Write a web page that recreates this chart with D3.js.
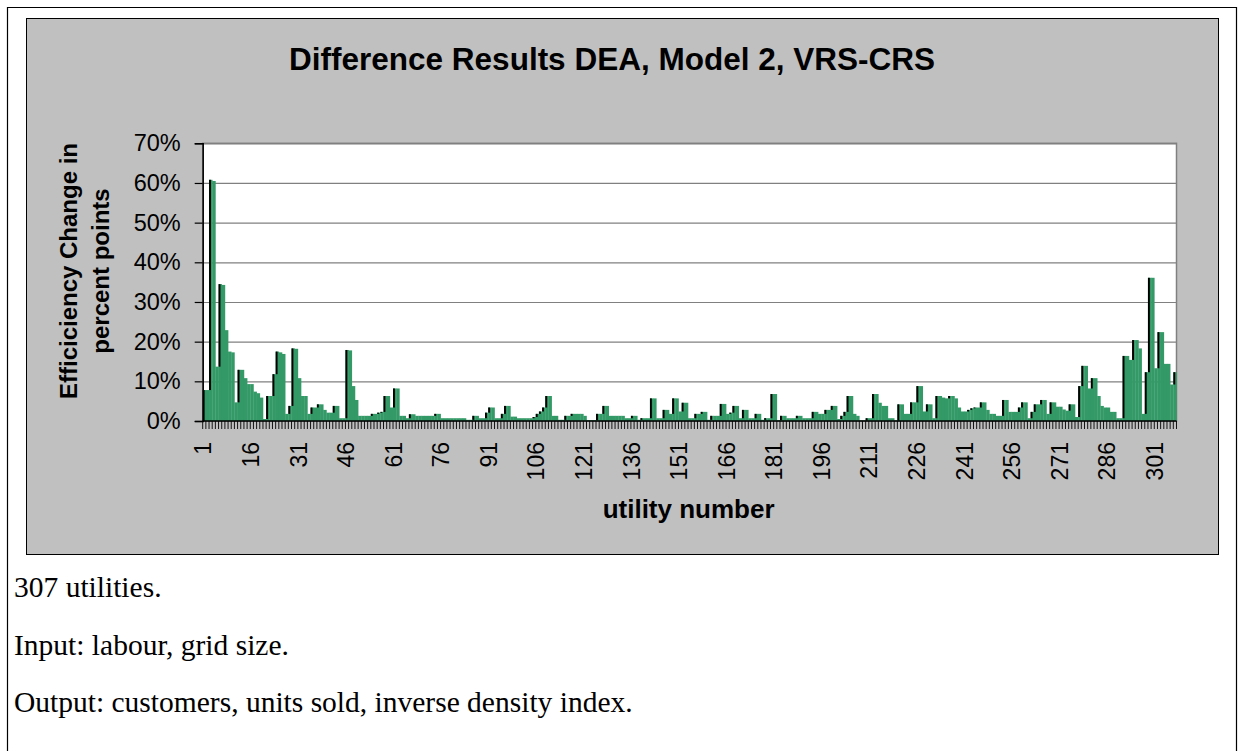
<!DOCTYPE html>
<html>
<head>
<meta charset="utf-8">
<script src="https://cdnjs.cloudflare.com/ajax/libs/d3/7.8.5/d3.min.js"></script>
<style>
  body { margin: 0; background: #fff; }
  svg { display: block; }
</style>
</head>
<body>
<script>
(function() {

    // --- data (percent points) ---
    var diffValues = [
        7.8, 7.8, 60.8, 60.5, 13.7, 34.5, 34.3, 22.9, 17.5, 17.3,
        4.7, 12.9, 12.9, 10.8, 9.3, 9.3, 7.4, 7.0, 5.9, 0.5,
        6.3, 6.3, 11.8, 17.5, 17.3, 16.9, 1.8, 3.8, 18.3, 18.2,
        10.8, 6.3, 6.3, 1.8, 3.4, 3.4, 4.2, 4.2, 2.8, 2.1,
        2.1, 3.8, 3.8, 0.7, 0.7, 17.9, 17.8, 8.8, 5.3, 1.3,
        1.3, 1.3, 1.3, 1.8, 1.8, 2.1, 2.3, 6.3, 6.3, 3.4,
        8.2, 8.2, 1.3, 1.3, 0.7, 1.7, 1.7, 1.3, 1.3, 1.3,
        1.3, 1.3, 1.3, 1.8, 1.8, 0.7, 0.7, 0.7, 0.7, 0.7,
        0.7, 0.7, 0.7, 0.3, 0.3, 1.3, 1.3, 0.7, 0.7, 2.1,
        3.4, 3.4, 0.7, 0.7, 1.8, 3.8, 3.8, 1.1, 1.1, 0.7,
        0.7, 0.7, 0.7, 0.7, 1.0, 1.8, 2.4, 3.4, 6.3, 6.3,
        1.3, 1.3, 0.3, 0.3, 1.3, 1.3, 1.8, 1.8, 1.8, 1.8,
        1.3, 0.2, 0.2, 0.2, 1.8, 1.8, 3.8, 3.8, 1.3, 1.3,
        1.3, 1.3, 1.3, 0.7, 0.7, 1.3, 1.3, 0.3, 0.7, 0.7,
        0.7, 5.7, 5.7, 0.7, 0.7, 2.8, 2.8, 1.8, 5.7, 5.7,
        2.4, 4.6, 4.6, 0.7, 0.7, 1.8, 1.8, 2.3, 2.3, 0.3,
        1.3, 1.3, 1.3, 4.3, 4.3, 1.8, 2.1, 3.8, 3.8, 0.7,
        2.8, 2.8, 0.7, 0.7, 1.8, 1.8, 0.3, 0.7, 0.7, 6.8,
        6.8, 0.2, 1.3, 1.3, 0.7, 0.7, 0.7, 1.3, 1.3, 0.7,
        0.7, 0.7, 2.3, 2.3, 1.8, 1.8, 2.8, 2.8, 3.8, 3.8,
        0.5, 1.3, 2.3, 6.3, 6.3, 1.8, 1.3, 0.1, 0.1, 0.7,
        0.7, 6.8, 6.8, 4.6, 3.8, 3.8, 0.7, 0.7, 0.1, 4.2,
        4.2, 1.8, 1.8, 4.7, 4.7, 8.8, 8.8, 2.4, 4.2, 4.2,
        0.7, 6.3, 6.3, 5.9, 5.7, 6.3, 6.3, 5.7, 3.4, 2.4,
        2.4, 2.8, 3.2, 3.4, 3.4, 4.7, 4.7, 2.8, 1.8, 1.8,
        1.3, 1.3, 5.3, 5.3, 2.3, 2.3, 2.3, 3.4, 4.7, 4.7,
        0.7, 2.3, 4.2, 4.2, 5.3, 5.3, 1.8, 4.7, 4.7, 3.6,
        3.6, 2.9, 2.6, 4.2, 4.2, 1.0, 8.8, 13.9, 13.9, 8.2,
        10.8, 10.8, 6.3, 3.8, 3.4, 3.4, 2.3, 2.3, 0.7, 0.7,
        16.4, 16.4, 15.4, 20.4, 20.4, 18.3, 1.8, 12.3, 36.1, 36.1,
        13.3, 22.4, 22.4, 14.4, 14.4, 9.2, 12.3
    ];

    // utility numbers 1..307
    var utilities = diffValues.map(function(d, i) { return i + 1; });

    var yTicks = [0, 10, 20, 30, 40, 50, 60, 70];
    var labelEvery = 15;   // category labels 1, 16, 31, ...

    var chartTitle = "Difference Results DEA, Model 2, VRS-CRS";
    var yTitleLines = ["Efficiciency Change in", "percent points"];
    var xTitle = "utility number";
    var noteLines = [
        "307 utilities.",
        "Input: labour, grid size.",
        "Output: customers, units sold, inverse density index."
    ];

    var width = 1244,
        height = 751;

    var sans = "'Liberation Sans', Arial, sans-serif",
        serif = "'Liberation Serif', 'Times New Roman', serif";

    var svg = d3.select("body")
        .append("svg")
        .attr("width", width)
        .attr("height", height);

    // outer page frame (open at the bottom)
    svg.append("path")
        .attr("d", "M7.5," + height + "V7.5H1236.5V" + height)
        .attr("fill", "none")
        .attr("stroke", "#000")
        .attr("stroke-width", 1.2);

    // grey chart area
    svg.append("rect")
        .attr("x", 26.5)
        .attr("y", 18.5)
        .attr("width", 1192)
        .attr("height", 536)
        .attr("fill", "#c0c0c0")
        .attr("stroke", "#000")
        .attr("stroke-width", 1);

    // plot area
    var plot = { left: 202.7, right: 1176.5, top: 143.3, bottom: 421 };

    var x = d3.scaleBand()
        .domain(utilities)
        .range([plot.left, plot.right])
        .padding(0);

    var y = d3.scaleLinear()
        .domain([0, 70])
        .range([plot.bottom, plot.top]);

    svg.append("rect")
        .attr("x", plot.left)
        .attr("y", plot.top)
        .attr("width", plot.right - plot.left)
        .attr("height", plot.bottom - plot.top)
        .attr("fill", "#fff")
        .attr("stroke", "#808080")
        .attr("stroke-width", 1.5);

    // gridlines
    svg.append("g")
        .attr("transform", "translate(" + plot.left + ",0)")
        .call(d3.axisLeft(y).tickValues(yTicks.slice(1)).tickSize(-(plot.right - plot.left)).tickFormat(""))
        .call(function(g) {
            g.select(".domain").remove();
            g.selectAll("line").attr("stroke", "#808080").attr("stroke-width", 1.2);
        });

    // bars
    var bars = svg.append("g");

    bars.selectAll(".bar")
        .data(diffValues)
        .enter().append("rect")
        .attr("class", "bar")
        .attr("x", function(d, i) { return x(utilities[i]); })
        .attr("y", function(d) { return y(d); })
        .attr("width", x.bandwidth() + 0.3)
        .attr("height", function(d) { return y(0) - y(d); })
        .attr("fill", "#339966");

    // dark left edge where a bar steps up above its neighbour
    bars.selectAll(".edge")
        .data(diffValues)
        .enter().append("rect")
        .attr("class", "edge")
        .attr("x", function(d, i) { return x(utilities[i]); })
        .attr("y", function(d) { return y(d); })
        .attr("width", x.bandwidth() * 0.6)
        .attr("height", function(d, i) {
            var prev = i > 0 ? diffValues[i - 1] : 0;
            return d > prev ? y(prev) - y(d) : 0;
        })
        .attr("fill", "#000");

    // y axis
    svg.append("g")
        .attr("transform", "translate(" + plot.left + ",0)")
        .call(d3.axisLeft(y).tickValues(yTicks).tickSize(8).tickPadding(14)
            .tickFormat(function(d) { return d + "%"; }))
        .call(function(g) {
            g.select(".domain").attr("stroke", "#000").attr("stroke-width", 1.5);
            g.selectAll("line").attr("stroke", "#000").attr("stroke-width", 1.2);
            g.selectAll("text")
                .attr("fill", "#000")
                .style("font-family", sans)
                .style("font-size", "23.5px");
        });

    // x axis: ticks on category boundaries, labels every 15th category
    var xAxis = svg.append("g")
        .attr("transform", "translate(0," + plot.bottom + ")");

    xAxis.append("line")
        .attr("x1", plot.left)
        .attr("x2", plot.right)
        .attr("stroke", "#000")
        .attr("stroke-width", 1.5);

    xAxis.selectAll(".tick-mark")
        .data(utilities.concat([null]))
        .enter().append("line")
        .attr("class", "tick-mark")
        .attr("x1", function(d) { return d === null ? plot.right : x(d); })
        .attr("x2", function(d) { return d === null ? plot.right : x(d); })
        .attr("y1", 0)
        .attr("y2", 8)
        .attr("stroke", "#000")
        .attr("stroke-width", 0.9);

    xAxis.selectAll(".xlab")
        .data(utilities.filter(function(d) { return (d - 1) % labelEvery === 0; }))
        .enter().append("text")
        .attr("class", "xlab")
        .attr("transform", function(d) {
            return "translate(" + (x(d) + x.bandwidth() / 2 - 1) + ",21) rotate(-90)";
        })
        .attr("text-anchor", "end")
        .attr("dy", "0.35em")
        .style("font-family", sans)
        .style("font-size", "23px")
        .text(function(d) { return d; });

    // titles
    svg.append("text")
        .attr("x", 612)
        .attr("y", 70)
        .attr("text-anchor", "middle")
        .style("font-family", sans)
        .style("font-weight", "bold")
        .style("font-size", "31.5px")
        .text(chartTitle);

    svg.append("text")
        .attr("x", (plot.left + plot.right) / 2 - 1)
        .attr("y", 518)
        .attr("text-anchor", "middle")
        .style("font-family", sans)
        .style("font-weight", "bold")
        .style("font-size", "26px")
        .text(xTitle);

    svg.append("g")
        .attr("transform", "translate(0,271) rotate(-90)")
        .selectAll("text")
        .data(yTitleLines)
        .enter().append("text")
        .attr("x", 0)
        .attr("y", function(d, i) { return 77 + i * 32; })
        .attr("text-anchor", "middle")
        .style("font-family", sans)
        .style("font-weight", "bold")
        .style("font-size", "24px")
        .text(function(d) { return d; });

    // notes under the chart
    svg.selectAll(".note")
        .data(noteLines)
        .enter().append("text")
        .attr("class", "note")
        .attr("x", 14)
        .attr("y", function(d, i) { return 597 + i * 57.5; })
        .style("font-family", serif)
        .style("font-size", "29.5px")
        .text(function(d) { return d; });

})();
</script>
</body>
</html>
